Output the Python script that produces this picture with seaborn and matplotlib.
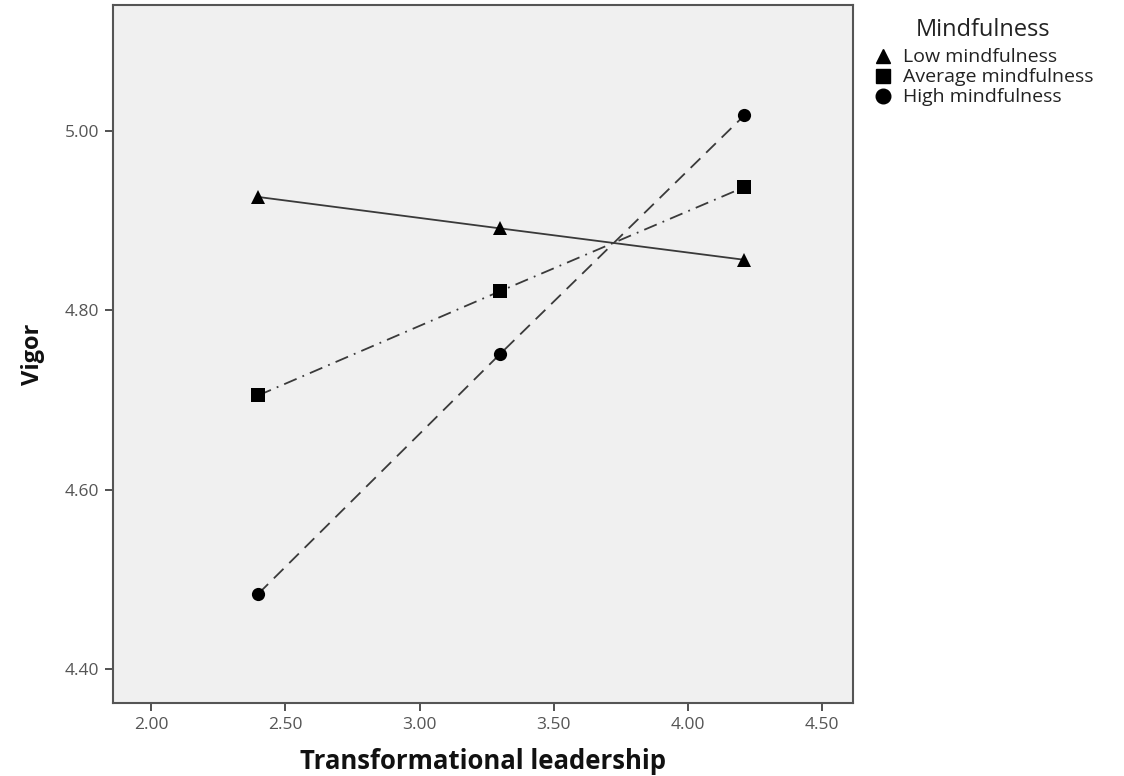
import matplotlib
matplotlib.use("Agg")
import matplotlib.pyplot as plt
from matplotlib.lines import Line2D
import seaborn as sns
import pandas as pd

x_levels = [2.40, 3.30, 4.21]
groups = ["Low mindfulness", "Average mindfulness", "High mindfulness"]
low_vals = [4.926, 4.891, 4.856]
avg_vals = [4.705, 4.821, 4.937]
high_vals = [4.484, 4.751, 5.017]
x_ticks = [2.00, 2.50, 3.00, 3.50, 4.00, 4.50]
y_ticks = [4.40, 4.60, 4.80, 5.00]

rows = []
for g, vals in zip(groups, [low_vals, avg_vals, high_vals]):
    for xv, yv in zip(x_levels, vals):
        rows.append({"TL": xv, "Vigor": yv, "Mindfulness": g})
df = pd.DataFrame(rows)

sns.set_theme(style="white")
plt.rcParams['font.family'] = ['Open Sans', 'DejaVu Sans']

fig = plt.figure(figsize=(11.24, 7.76), dpi=100)
fig.patch.set_facecolor("white")
ax = fig.add_axes([0.1005, 0.094, 0.6585, 0.8996])
ax.set_facecolor("#f0f0f0")

markers = {"Low mindfulness": "^", "Average mindfulness": "s", "High mindfulness": "o"}
dashes = {"Low mindfulness": "", "Average mindfulness": (7.5, 3.5, 1, 3.5),
          "High mindfulness": (7.5, 4.5)}
palette = {g: "#3a3a3a" for g in groups}

sns.lineplot(data=df, x="TL", y="Vigor", hue="Mindfulness", style="Mindfulness",
             markers=markers, dashes=dashes, palette=palette, linewidth=1.3,
             markersize=9.5, markeredgewidth=0, ax=ax, legend=False)
for line in ax.lines:
    line.set_markerfacecolor("black")
    line.set_markeredgecolor("black")

ax.set_xlim(1.858, 4.615)
ax.set_ylim(4.362, 5.14)
ax.set_xticks(x_ticks)
ax.set_xticklabels([f"{t:.2f}" for t in x_ticks])
ax.set_yticks(y_ticks)
ax.set_yticklabels([f"{t:.2f}" for t in y_ticks])
ax.tick_params(axis="both", direction="out", length=6, width=1.2, color="#333333",
               labelsize=12.5, labelcolor="#555555", bottom=True, left=True, pad=4)
for sp in ax.spines.values():
    sp.set_color("#555555")
    sp.set_linewidth(1.5)

ax.set_xlabel("Transformational leadership", fontsize=18.5, fontweight="bold",
              color="#111111", labelpad=11)
ax.set_ylabel("Vigor", fontsize=17, fontweight="bold", color="#111111", labelpad=14)

fig.text(983 / 1124, 1 - 30 / 776, "Mindfulness", ha="center", va="center",
         fontsize=17, color="#222222")
handles = [Line2D([], [], linestyle="none", marker=markers[g], color="black",
                  markersize=10.5) for g in groups]
leg = fig.legend(handles, groups, loc="upper left",
                 bbox_to_anchor=(0.7765, 0.9375), frameon=False, fontsize=14,
                 handletextpad=0.55, labelspacing=0.1, borderpad=0,
                 handlelength=1.0, borderaxespad=0)
for t in leg.get_texts():
    t.set_color("#222222")

fig.savefig("out.png", dpi=100)
